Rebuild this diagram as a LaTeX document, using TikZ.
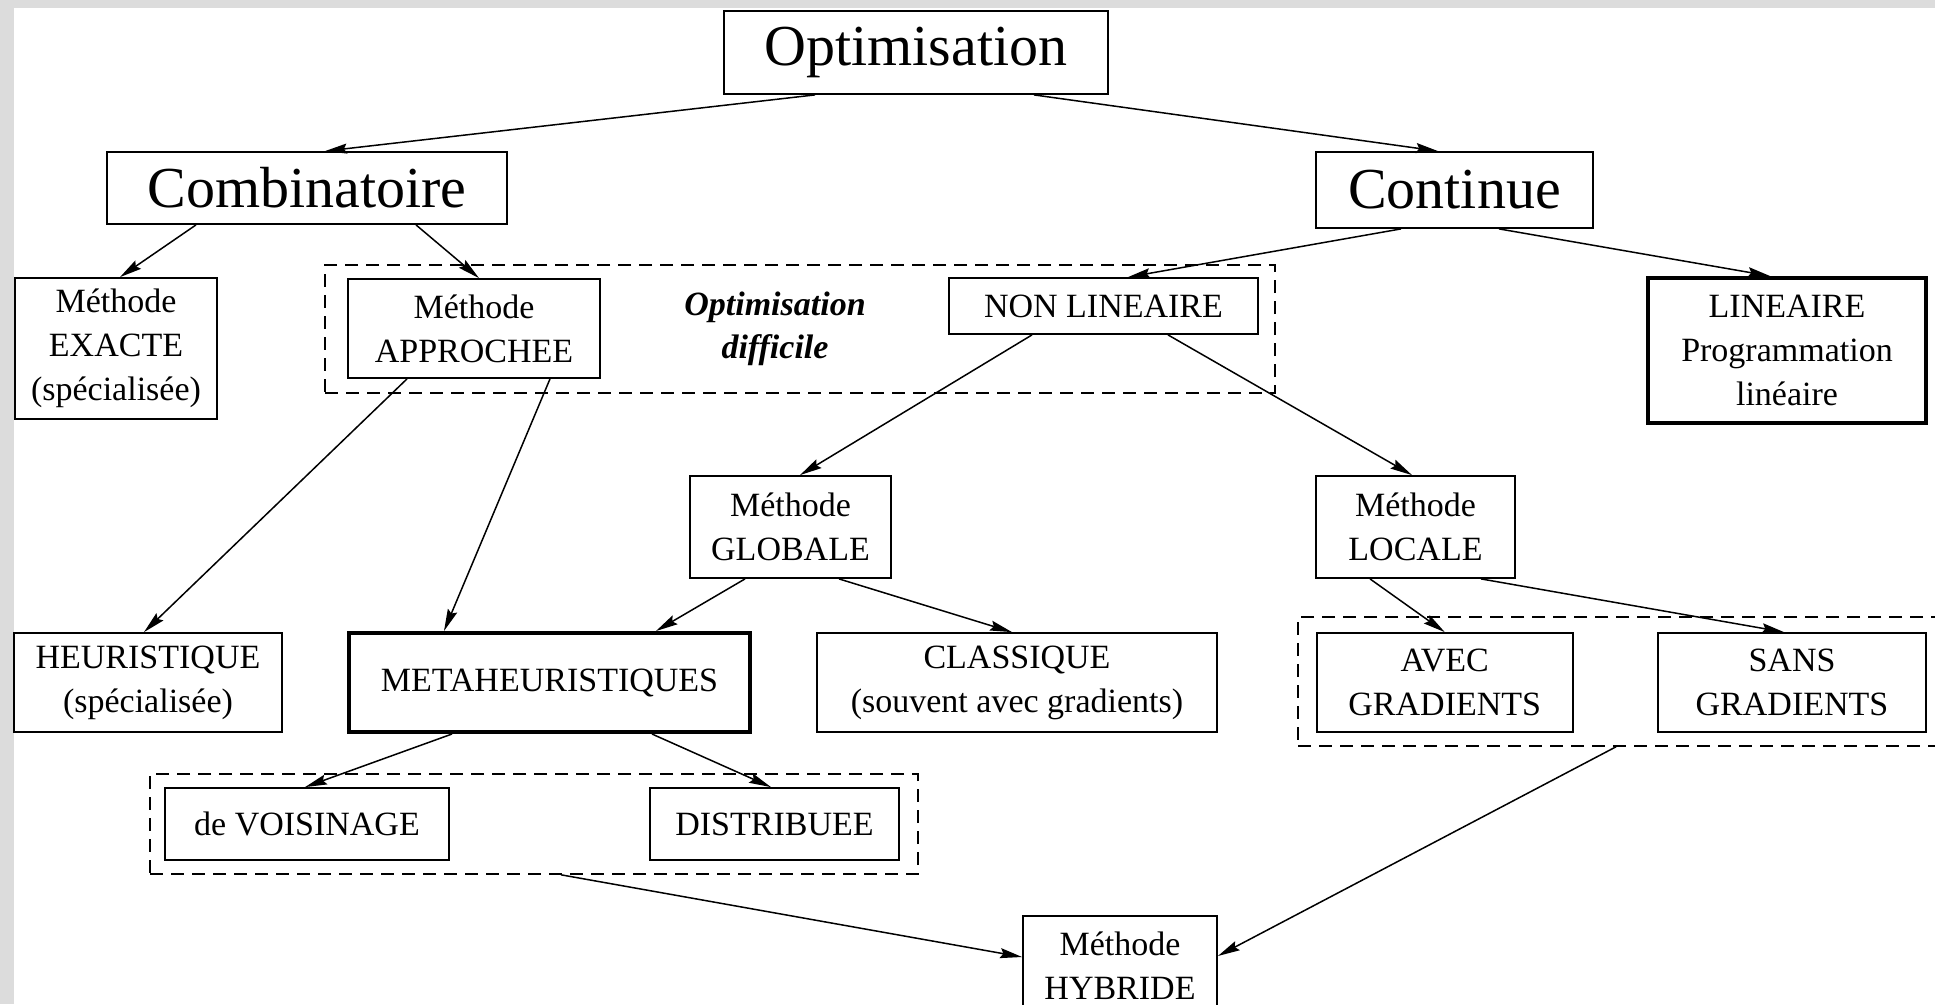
\documentclass[tikz,border=0pt]{standalone}
\usepackage{fontspec}
\setmainfont{Liberation Serif}
\usetikzlibrary{arrows.meta}
\definecolor{bggray}{HTML}{DCDCDC}
\begin{document}
\begin{tikzpicture}[x=1pt,y=-1pt,
  box/.style={draw, line width=1.8pt, inner sep=0pt, align=center, font=\fontsize{34}{44}\selectfont},
  bigbox/.style={draw, line width=1.8pt, inner sep=0pt, align=center, font=\fontsize{58}{70}\selectfont},
  heavybox/.style={box, line width=4pt},
  groupbox/.style={draw, dash pattern=on 13pt off 8pt, line width=1.6pt, inner sep=0pt},
  arr/.style={-{Stealth[length=22pt,width=10pt,inset=3pt]}, line width=1.5pt},
]
\clip (0,0) rectangle (1935,1004);
\fill[bggray] (0,0) rectangle (1935,1004);
\fill[white] (14,8) rectangle (1935,1004);

% dashed groups
\node[groupbox, minimum width=950pt, minimum height=128pt] (d1) at (800,329) {};
\node[groupbox, minimum width=768pt, minimum height=100pt] (d2) at (534,824) {};
\node[groupbox, minimum width=647pt, minimum height=129pt] (d3) at (1621.5,681.5) {};

% nodes
\node[bigbox, minimum width=384pt, minimum height=83pt] (opt) at (916,52.5) {Optimisation};
\node[bigbox, minimum width=400pt, minimum height=72pt] (comb) at (307,188) {Combinatoire};
\node[bigbox, minimum width=277pt, minimum height=76pt] (cont) at (1454.5,190) {Continue};
\node[box, minimum width=202pt, minimum height=141pt] (exacte) at (116,348.5) {Méthode\\EXACTE\\(spécialisée)};
\node[box, minimum width=252pt, minimum height=99pt] (appr) at (474,328.5) {Méthode\\APPROCHEE};
\node[align=center, inner sep=0pt, font=\fontsize{34}{43}\selectfont\bfseries\itshape] (odiff) at (775,328.5) {Optimisation\\difficile};
\node[box, minimum width=309pt, minimum height=56pt] (nonlin) at (1103.5,306) {NON LINEAIRE};
\node[heavybox, minimum width=278pt, minimum height=145pt] (lin) at (1787,350.5) {LINEAIRE\\Programmation\\linéaire};
\node[box, minimum width=201pt, minimum height=102pt] (globale) at (790.5,527) {Méthode\\GLOBALE};
\node[box, minimum width=199pt, minimum height=102pt] (locale) at (1415.5,527) {Méthode\\LOCALE};
\node[box, minimum width=268pt, minimum height=99pt] (heur) at (148,682.5) {HEURISTIQUE\\(spécialisée)};
\node[heavybox, minimum width=401pt, minimum height=99pt] (meta) at (549.5,682.5) {METAHEURISTIQUES};
\node[box, minimum width=400pt, minimum height=99pt] (classique) at (1017,682.5) {CLASSIQUE\\(souvent avec gradients)};
\node[box, minimum width=256pt, minimum height=99pt] (avec) at (1444.75,682.5) {AVEC\\GRADIENTS};
\node[box, minimum width=268pt, minimum height=99pt] (sans) at (1792,682.5) {SANS\\GRADIENTS};
\node[box, minimum width=284pt, minimum height=72pt] (vois) at (307,824) {de VOISINAGE};
\node[box, minimum width=249pt, minimum height=72pt] (distrib) at (774.5,824) {DISTRIBUEE};
\node[box, minimum width=194pt, minimum height=99pt] (hybr) at (1120,965.5) {Méthode\\HYBRIDE};

% connectors
\draw[arr] ([xshift=-101pt]opt.south) -- ([xshift=18pt]comb.north);
\draw[arr] ([xshift=118pt]opt.south) -- ([xshift=-16.5pt]cont.north);
\draw[arr] ([xshift=-111pt]comb.south) -- ([xshift=4pt]exacte.north);
\draw[arr] ([xshift=109pt]comb.south) -- ([xshift=5pt]appr.north);
\draw[arr] ([xshift=-53.5pt]cont.south) -- ([xshift=24.5pt]nonlin.north);
\draw[arr] ([xshift=44.5pt]cont.south) -- ([xshift=-17pt]lin.north);
\draw[arr] ([xshift=-67pt]appr.south) -- ([xshift=-4pt]heur.north);
\draw[arr] ([xshift=76pt]appr.south) -- ([xshift=-105.5pt]meta.north);
\draw[arr] ([xshift=-71.5pt]nonlin.south) -- ([xshift=9.5pt]globale.north);
\draw[arr] ([xshift=64.5pt]nonlin.south) -- ([xshift=-3.5pt]locale.north);
\draw[arr] ([xshift=-45.5pt]globale.south) -- ([xshift=106.5pt]meta.north);
\draw[arr] ([xshift=48.5pt]globale.south) -- ([xshift=-5pt]classique.north);
\draw[arr] ([xshift=-45.5pt]locale.south) -- (avec.north);
\draw[arr] ([xshift=65.5pt]locale.south) -- ([xshift=-8pt]sans.north);
\draw[arr] ([xshift=-97.5pt]meta.south) -- ([xshift=-2pt]vois.north);
\draw[arr] ([xshift=102.5pt]meta.south) -- ([xshift=-3.5pt]distrib.north);
\draw[arr] ([xshift=27pt]d2.south) -- ([yshift=8.5pt]hybr.west);
\draw[arr] ([xshift=-5.5pt]d3.south) -- ([yshift=9.5pt]hybr.east);
\end{tikzpicture}
\end{document}
